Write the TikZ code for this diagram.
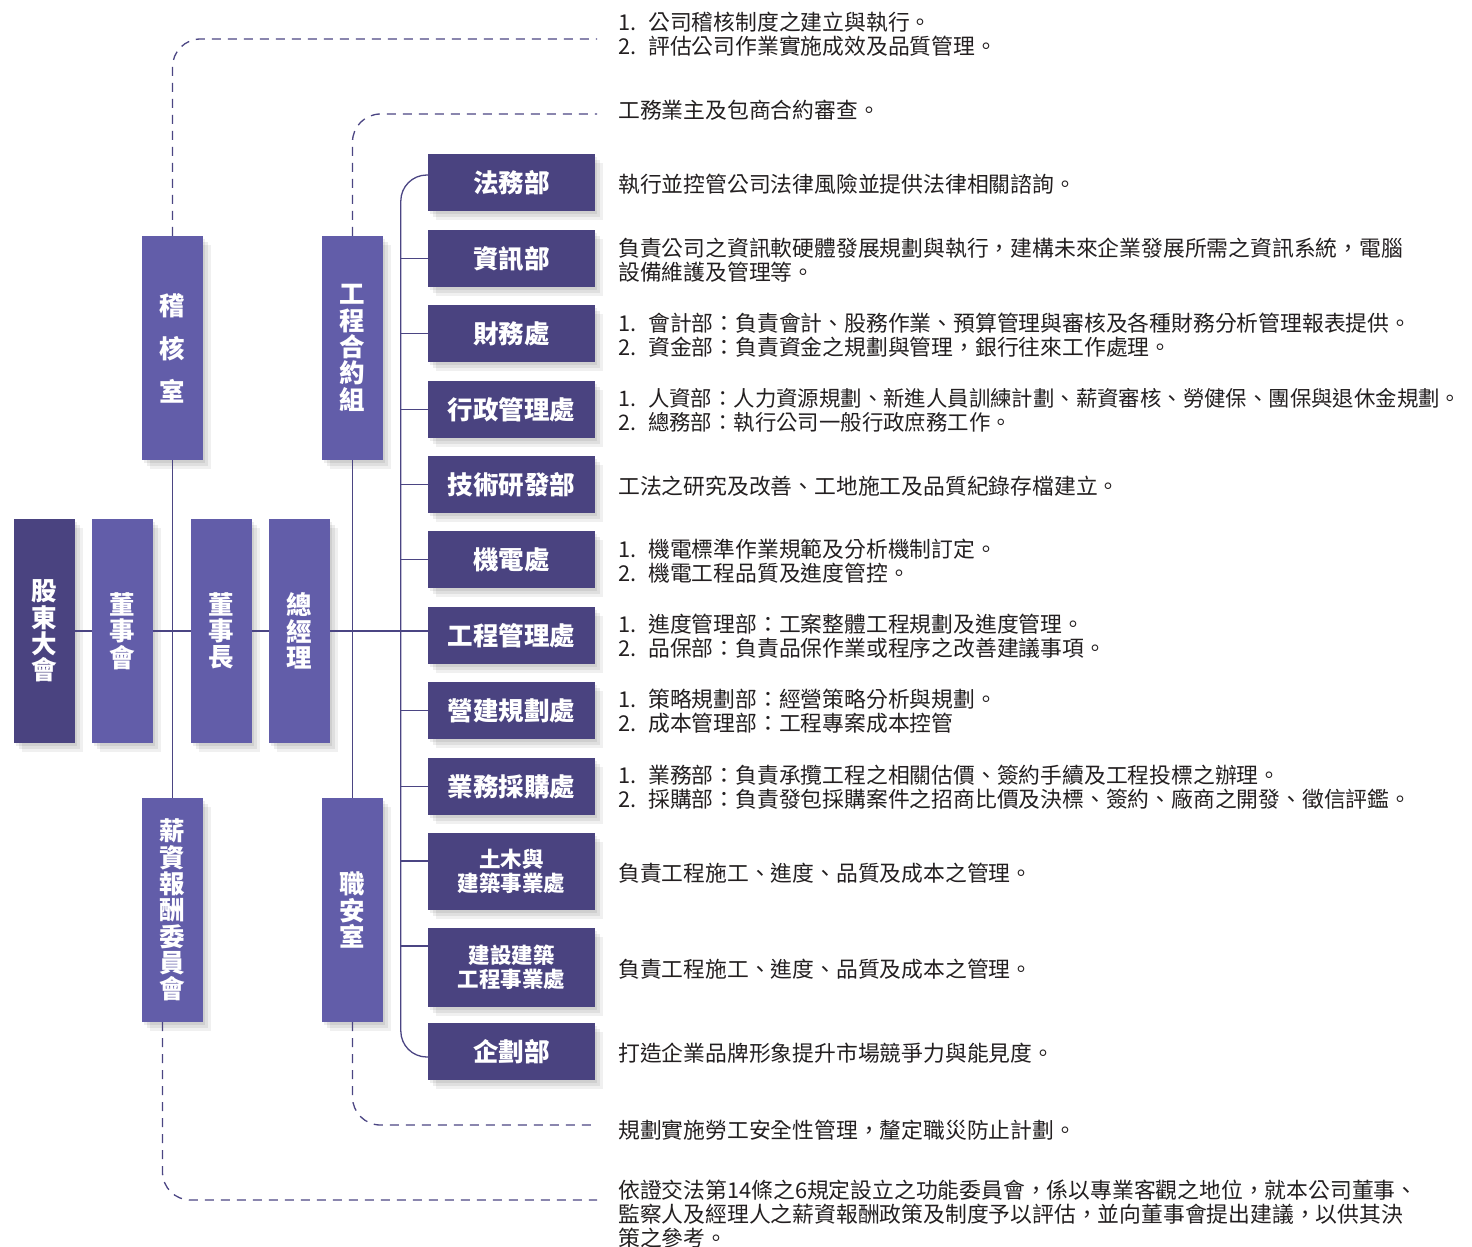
\documentclass[tikz,border=0pt]{standalone}
\usepackage{fontspec}
\newfontfamily\cjk{Noto Sans CJK TC}
\usetikzlibrary{shadows}
\definecolor{dk}{HTML}{4A4380}
\definecolor{md}{HTML}{625DA9}
\definecolor{ln}{HTML}{4B4583}
\definecolor{txt}{HTML}{231F20}
\newcommand{\numlab}[1]{\makebox[30pt][l]{#1}}
\begin{document}
\begin{tikzpicture}[x=1pt,y=-1pt,
  softsh/.style={general shadow={fill=black,opacity=.07,shadow xshift=2pt,shadow yshift=-3pt},
                 general shadow={fill=black,opacity=.07,shadow xshift=5pt,shadow yshift=-6pt},
                 general shadow={fill=black,opacity=.06,shadow xshift=8pt,shadow yshift=-9pt}},
  sidebox/.style={softsh,minimum width=61pt,minimum height=224pt,inner sep=0pt,align=center,
                  text=white,font=\cjk\bfseries\fontsize{25.5}{26.3}\selectfont},
  dept/.style={softsh,fill=dk,minimum width=167pt,minimum height=57pt,inner sep=0pt,align=center,
               text=white,font=\cjk\bfseries\fontsize{25.5}{28}\selectfont},
  dept2/.style={dept,font=\cjk\bfseries\fontsize{21.5}{24}\selectfont},
  desc/.style={anchor=west,align=left,inner sep=0pt,text=txt,font=\cjk\fontsize{21.8}{24}\selectfont},
  conn/.style={draw=ln,line width=1.3pt},
  dashln/.style={draw=ln,line width=1.3pt,dash pattern=on 9pt off 7pt,rounded corners=28pt}
]
\useasboundingbox (0,0) rectangle (1472,1247);

% left column boxes
\node[sidebox,fill=dk] (sh) at (44.5,631) {股\\東\\大\\會};
\node[sidebox,fill=md] (bd) at (122.5,631) {董\\事\\會};
\node[sidebox,fill=md] (ch) at (221.5,631) {董\\事\\長};
\node[sidebox,fill=md] (gm) at (299.5,631) {總\\經\\理};
\node[sidebox,fill=md,font=\cjk\bfseries\fontsize{25.5}{43}\selectfont] (au) at (172.5,348) {稽\\核\\室};
\node[sidebox,fill=md] (sal) at (172.5,910) {薪\\資\\報\\酬\\委\\員\\會};
\node[sidebox,fill=md] (ct) at (352.5,348) {工\\程\\合\\約\\組};
\node[sidebox,fill=md] (sf) at (352.5,910) {職\\安\\室};

% departments
\node[dept] (law)  at (511.5,182.5) {法務部};
\node[dept] (info) at (511.5,258.5) {資訊部};
\node[dept] (fin)  at (511.5,333.5) {財務處};
\node[dept] (adm)  at (511.5,409.5) {行政管理處};
\node[dept] (tech) at (511.5,484.5) {技術研發部};
\node[dept] (mech) at (511.5,559.5) {機電處};
\node[dept] (engm) at (511.5,635.5) {工程管理處};
\node[dept] (plan) at (511.5,710.5) {營建規劃處};
\node[dept] (biz)  at (511.5,786.5) {業務採購處};
\node[dept2,minimum height=77pt] (civ) at (511.5,871.5) {土木與\\建築事業處};
\node[dept2,minimum height=79pt] (bld) at (511.5,967.5) {建設建築\\工程事業處};
\node[dept] (corp) at (511.5,1051.5) {企劃部};

% solid connectors
\draw[conn] (sh.east) -- (bd.west);
\draw[conn] (bd.east) -- (ch.west);
\draw[conn] (ch.east) -- (gm.west);
\draw[conn] (gm.east) -- (gm.east -| engm.west);
\draw[conn] (au.south) -- (sal.north);
\draw[conn] (ct.south) -- (sf.north);
\draw[conn,rounded corners=26pt] ([yshift=7.5pt]law.west) -- ++(-27,0) -- ++(0,882) -- ([yshift=-5.5pt]corp.west);
\foreach \d in {info,fin,adm,tech,mech,plan,biz} {
  \draw[conn] (\d.west) -- ++(-27,0);
}
\draw[conn] ([yshift=10.5pt]civ.west) -- ++(-27,0);
\draw[conn] ([yshift=21.5pt]bld.west) -- ++(-27,0);

% dashed connectors
\coordinate (eau) at (597,39);
\coordinate (ect) at (597,114);
\coordinate (esf) at (597,1125);
\coordinate (esal) at (597,1200);
\draw[dashln] (au.north) |- (eau);
\draw[dashln] (ct.north) |- (ect);
\draw[dashln] (sf.south) |- (esf);
\draw[dashln] ([xshift=-10pt]sal.south) |- (esal);

% descriptions
\node[desc] (t-au) at (618,34) {\numlab{1.}公司稽核制度之建立與執行。\\\numlab{2.}評估公司作業實施成效及品質管理。};
\node[desc] (t-ct) at (618,110) {工務業主及包商合約審查。};
\node[desc] (t-law) at (618,184) {執行並控管公司法律風險並提供法律相關諮詢。};
\node[desc] (t-info) at (618,260) {負責公司之資訊軟硬體發展規劃與執行，建構未來企業發展所需之資訊系統，電腦\\設備維護及管理等。};
\node[desc] (t-fin) at (618,335) {\numlab{1.}會計部：負責會計、股務作業、預算管理與審核及各種財務分析管理報表提供。\\\numlab{2.}資金部：負責資金之規劃與管理，銀行往來工作處理。};
\node[desc,font=\cjk\fontsize{21.4}{24}\selectfont] (t-adm) at (618,410) {\numlab{1.}人資部：人力資源規劃、新進人員訓練計劃、薪資審核、勞健保、團保與退休金規劃。\\\numlab{2.}總務部：執行公司一般行政庶務工作。};
\node[desc] (t-tech) at (618,486) {工法之研究及改善、工地施工及品質紀錄存檔建立。};
\node[desc] (t-mech) at (618,561) {\numlab{1.}機電標準作業規範及分析機制訂定。\\\numlab{2.}機電工程品質及進度管控。};
\node[desc] (t-engm) at (618,636) {\numlab{1.}進度管理部：工案整體工程規劃及進度管理。\\\numlab{2.}品保部：負責品保作業或程序之改善建議事項。};
\node[desc] (t-plan) at (618,711) {\numlab{1.}策略規劃部：經營策略分析與規劃。\\\numlab{2.}成本管理部：工程專案成本控管};
\node[desc] (t-biz) at (618,787) {\numlab{1.}業務部：負責承攬工程之相關估價、簽約手續及工程投標之辦理。\\\numlab{2.}採購部：負責發包採購案件之招商比價及決標、簽約、廠商之開發、徵信評鑑。};
\node[desc] (t-civ) at (618,873) {負責工程施工、進度、品質及成本之管理。};
\node[desc] (t-bld) at (618,969) {負責工程施工、進度、品質及成本之管理。};
\node[desc] (t-corp) at (618,1053) {打造企業品牌形象提升市場競爭力與能見度。};
\node[desc] (t-sf) at (618,1130) {規劃實施勞工安全性管理，釐定職災防止計劃。};
\node[desc] (t-sal) at (618,1214.5) {依證交法第14條之6規定設立之功能委員會，係以專業客觀之地位，就本公司董事、\\監察人及經理人之薪資報酬政策及制度予以評估，並向董事會提出建議，以供其決\\策之參考。};
\end{tikzpicture}
\end{document}
